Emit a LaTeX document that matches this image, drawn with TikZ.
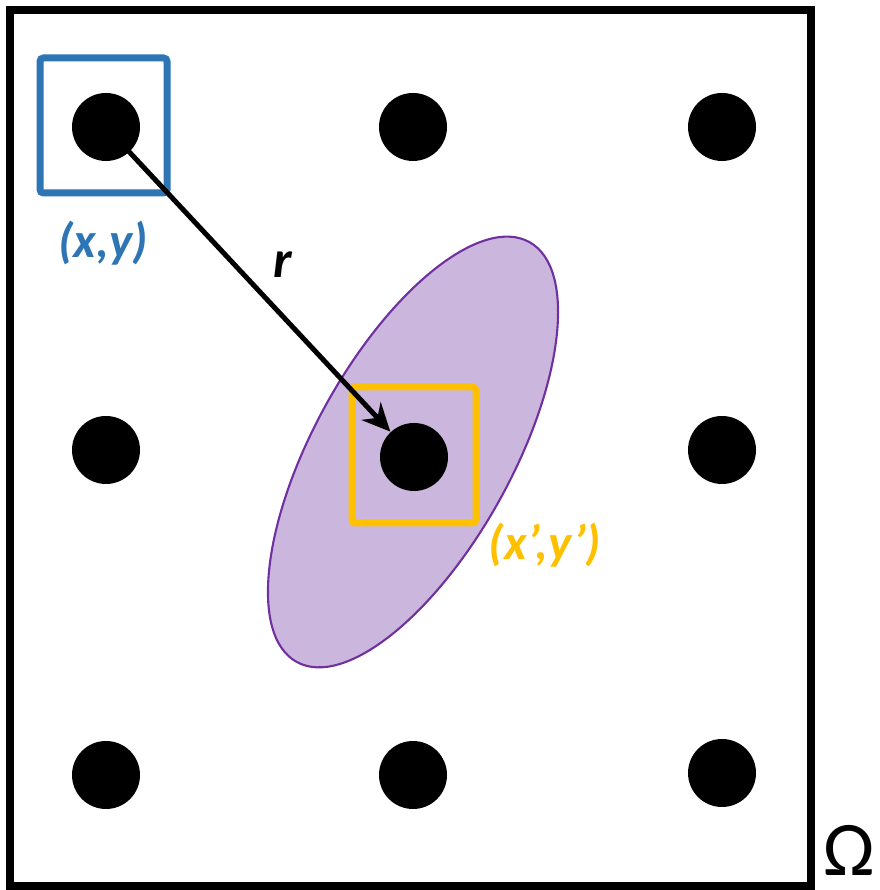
\documentclass[tikz,border=0pt]{standalone}
\usepackage{fontspec}
\setmainfont{Carlito}
\usepackage{xcolor}
\definecolor{pointcolor}{RGB}{46, 117, 182}
\definecolor{neighcolor}{RGB}{255, 192, 0}
\definecolor{kernelcolor}{RGB}{112, 48, 160}
\definecolor{kernelfill}{RGB}{203, 183, 221}
\usetikzlibrary{arrows.meta, positioning}

\begin{document}
\begin{tikzpicture}[
    dot/.style={circle, fill=black, inner sep=0pt, minimum size=0.68cm},
    box/.style={rectangle, draw, line width=0.07cm, rounded corners=1pt, inner sep=0pt},
    pointbox/.style={box, draw=pointcolor, minimum width=1.27cm, minimum height=1.35cm},
    neighbox/.style={box, draw=neighcolor, minimum width=1.24cm, minimum height=1.36cm},
    label/.style={font=\fontsize{14}{16}\selectfont\bfseries\itshape},
    arrow/.style={-{Stealth[length=0.28cm, width=0.26cm]}, line width=0.05cm}
]
    \useasboundingbox (0,0) rectangle (8.79,8.90);

    % Domain
    \draw[line width=0.08cm] (0.10,0.04) rectangle (8.11,8.80);
    \node[font=\fontsize{22}{26}\selectfont, inner sep=0pt] (omega) at (8.49,0.40) {Ω};

    % Kernel
    \draw[kernelcolor, fill=kernelfill, line width=0.6pt,
          rotate around={61:(4.13,4.38)}] (4.13,4.38) ellipse (2.40 and 0.99);

    % Boxes
    \node[pointbox] (xybox) at (1.035,7.645) {};
    \node[neighbox] (xyprimebox) at (4.14,4.35) {};

    % Grid points
    \node[dot] (d11) at (1.06,7.63) {};
    \node[dot] (d12) at (4.13,7.63) {};
    \node[dot] (d13) at (7.22,7.63) {};
    \node[dot] (d21) at (1.06,4.40) {};
    \node[dot] (d22) at (4.14,4.33) {};
    \node[dot] (d23) at (7.22,4.40) {};
    \node[dot] (d31) at (1.06,1.15) {};
    \node[dot] (d32) at (4.13,1.15) {};
    \node[dot] (d33) at (7.22,1.17) {};

    % Arrow
    \draw[arrow] (d11.center) -- (d22);

    % Labels
    \node[label, pointcolor] (xylabel) at (1.03,6.47) {(x,y)};
    \node[label, neighcolor] (xyprimelabel) at (5.45,3.45) {(x’,y’)};
    \node[label, font=\fontsize{15}{17}\selectfont\bfseries\itshape] (rlabel) at (2.83,6.25) {r};
\end{tikzpicture}
\end{document}
